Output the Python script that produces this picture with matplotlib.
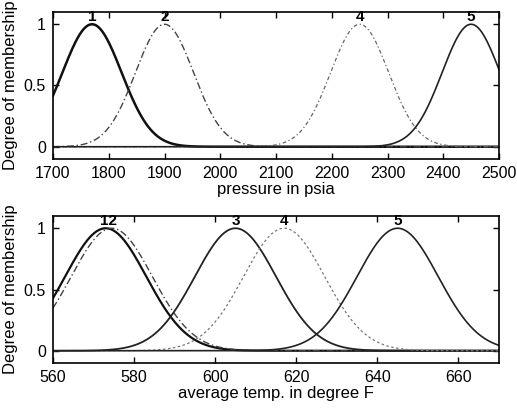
import numpy as np
import matplotlib
matplotlib.use("Agg")
import matplotlib.pyplot as plt

plt.rcParams['font.family'] = ['Liberation Sans', 'DejaVu Sans']

# Gaussian membership function parameters
p_labels = ['1', '2', '4', '5']
p_centers = [1770, 1900, 2250, 2450]
p_sigmas = [53, 52, 52, 52]
p_range = [1700, 2500]
p_ticks = [1700, 1800, 1900, 2000, 2100, 2200, 2300, 2400, 2500]

t_labels = ['1', '2', '3', '4', '5']
t_centers = [573, 574.5, 605, 617, 645]
t_sigmas = [10, 10, 10, 10, 10]
t_range = [560, 670]
t_ticks = [560, 580, 600, 620, 640, 660]

y_ticks = [0, 0.5, 1]

p_styles = [dict(ls='-', lw=1.8, color='#111111'),
            dict(ls=(0, (5, 2, 1, 2)), lw=1.0, color='#444444'),
            dict(ls=(0, (3, 2, 1, 2)), lw=0.9, color='#666666'),
            dict(ls='-', lw=1.2, color='#222222')]
t_styles = [dict(ls='-', lw=1.6, color='#111111'),
            dict(ls=(0, (5, 2, 1, 2)), lw=1.0, color='#444444'),
            dict(ls='-', lw=1.3, color='#222222'),
            dict(ls=(0, (2, 2)), lw=0.9, color='#777777'),
            dict(ls='-', lw=1.2, color='#222222')]


def gaussmf(x, c, s):
    return np.exp(-(x - c) ** 2 / (2.0 * s ** 2))


fig = plt.figure(figsize=(5.17, 4.09), dpi=100)
ax1 = fig.add_axes([53/517, 1 - 159/409, (499-53)/517, (159-12)/409])
ax2 = fig.add_axes([53/517, 1 - 363/409, (499-53)/517, (363-216)/409])


def draw(ax, centers, sigmas, rng, ticks, styles, xlabel):
    x = np.linspace(rng[0], rng[1], 600)
    for c, s, st in zip(centers, sigmas, styles):
        ax.plot(x, gaussmf(x, c, s), **st)
    ax.set_xlim(rng)
    ax.set_ylim(-0.1, 1.1)
    ax.set_xticks(ticks)
    ax.set_yticks(y_ticks)
    ax.set_yticklabels(['0', '0.5', '1'])
    ax.tick_params(direction='in', top=True, right=True, labelsize=11.5, length=4, width=1, pad=5)
    for sp in ax.spines.values():
        sp.set_linewidth(1.2)
    ax.set_xlabel(xlabel, fontsize=12, labelpad=1)
    ax.set_ylabel('Degree of membership', fontsize=12, labelpad=4)


draw(ax1, p_centers, p_sigmas, p_range, p_ticks, p_styles, 'pressure in psia')
for lab, c in zip(p_labels, p_centers):
    ax1.text(c, 1.0, lab, ha='center', va='bottom', fontsize=11, fontweight='bold')

draw(ax2, t_centers, t_sigmas, t_range, t_ticks, t_styles, 'average temp. in degree F')
ax2.text((t_centers[0] + t_centers[1]) / 2, 1.0, t_labels[0] + t_labels[1], ha='center', va='bottom', fontsize=11, fontweight='bold')
for lab, c in zip(t_labels[2:], t_centers[2:]):
    ax2.text(c, 1.0, lab, ha='center', va='bottom', fontsize=11, fontweight='bold')

fig.savefig('out.png', dpi=100)
